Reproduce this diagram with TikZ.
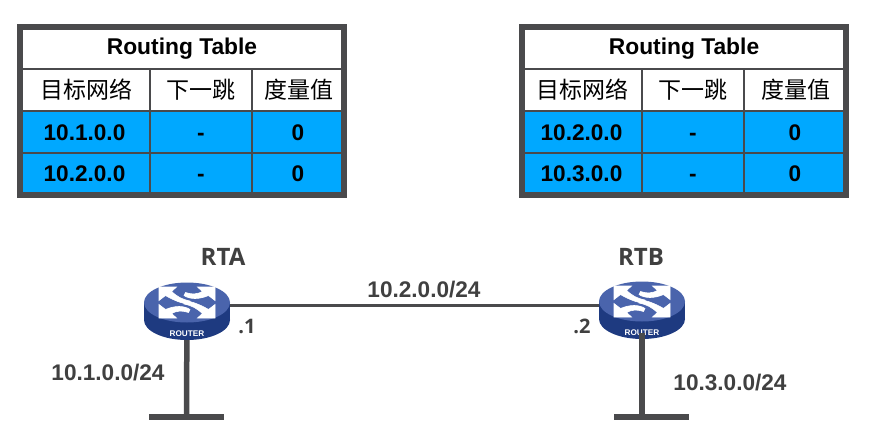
\documentclass[tikz,border=0pt]{standalone}
\usepackage{fontspec}
\setmainfont{Liberation Sans}
\newfontfamily\cjkf{Noto Sans CJK SC}
\newfontfamily\opensf{Open Sans}
\usetikzlibrary{shapes.geometric}
\definecolor{framegray}{HTML}{4A4A4C}
\definecolor{cellblue}{HTML}{00A8FF}
\definecolor{labelgray}{HTML}{404040}
\definecolor{routertop}{HTML}{4A64AC}
\definecolor{routerside}{HTML}{1E3A80}
\tikzset{
  x=1pt,y=-1pt,
  basecell/.style={draw=framegray,line width=2pt,inner sep=0pt,outer sep=0pt,text=black,text height=16pt,text depth=0pt,align=center},
  titlecell/.style={basecell,fill=white,minimum height=40pt,font=\fontsize{22.8}{24}\selectfont\bfseries},
  headcell/.style={basecell,fill=white,minimum height=42pt,font=\fontsize{23}{24}\selectfont\cjkf},
  datacell/.style={basecell,fill=cellblue,font=\fontsize{22.6}{24}\selectfont\bfseries},
  tableframe/.style={draw=framegray,line width=5pt,fill=none,inner sep=0pt,minimum width=325pt,minimum height=169pt},
  netlabel/.style={inner sep=0pt,anchor=base,text=labelgray,font=\fontsize{22.6}{24}\selectfont\bfseries},
  namelabel/.style={inner sep=0pt,anchor=base,text=labelgray,font=\fontsize{24}{26}\selectfont\opensf\bfseries},
  iflabel/.style={inner sep=0pt,anchor=base,text=labelgray,font=\fontsize{20}{22}\selectfont\opensf\bfseries},
  wire/.style={draw=framegray,line width=3pt},
  stem/.style={draw=framegray,line width=5.5pt},
  lanbar/.style={fill=framegray,inner sep=0pt,minimum width=75pt,minimum height=6pt},
  routerface/.style={ellipse,inner sep=0pt,outer sep=0pt,minimum width=86pt,minimum height=41pt},
  glyph/.style={fill=white,draw=white,line width=0.6pt,line join=miter},
}
\newcommand{\routerart}[2]{%
\begin{scope}[shift={(#1,#2)}]
  \fill[routerside] (0,17.5) ellipse[x radius=43,y radius=20];
  \fill[routerside] (-43,0) rectangle (43,17.5);
  \fill[routertop] (0,0) ellipse[x radius=43,y radius=20];
  \foreach \s in {1,-1}{
    \begin{scope}[xscale=\s,yscale=\s]
      % arrow whose tail runs through the centre
      \path[glyph] (-28,-15.5) -- (-10.5,-15.5) -- (-15.5,-11)
        .. controls (-10,-6) and (-5,-3) .. (3,-1.5)
        -- (3,2) .. controls (-5,1) and (-13,-2) .. (-21.5,-7)
        -- (-28,-2) -- cycle;
      % arrow whose tail hooks towards the top centre
      \path[glyph] (28,-15.5) -- (10.5,-15.5) -- (15.5,-11)
        .. controls (11,-8.5) and (5,-7.5) .. (-1.5,-10)
        -- (-3,-7) .. controls (3,-3) and (12,-3) .. (21.5,-7)
        -- (28,-2) -- cycle;
    \end{scope}
  }
  \node[inner sep=0pt,text=white,font=\fontsize{8.2}{9}\selectfont\bfseries] at (0,31) {ROUTER};
\end{scope}}
\begin{document}
\begin{tikzpicture}
\useasboundingbox (0,0) rectangle (870,439);
\fill[white] (0,0) rectangle (870,439);
% left table
\node[titlecell,minimum width=320pt] (lt) at (182,49) {\raisebox{3pt}{Routing Table}};
\node[headcell,minimum width=128pt] (lh1) at (86,90) {目标网络};
\node[headcell,minimum width=102pt] (lh2) at (201,90) {下一跳};
\node[headcell,minimum width=90pt] (lh3) at (297,90) {\hspace*{4pt}度量值};
\node[datacell,minimum width=128pt,minimum height=42pt] (la1) at (86,132) {\hspace*{-3pt}10.1.0.0};
\node[datacell,minimum width=102pt,minimum height=42pt] (la2) at (201,132) {-};
\node[datacell,minimum width=90pt,minimum height=42pt] (la3) at (297,132) {\hspace*{2pt}0};
\node[datacell,minimum width=128pt,minimum height=40pt] (lb1) at (86,173) {\hspace*{-3pt}10.2.0.0};
\node[datacell,minimum width=102pt,minimum height=40pt] (lb2) at (201,173) {-};
\node[datacell,minimum width=90pt,minimum height=40pt] (lb3) at (297,173) {\hspace*{2pt}0};
\node[tableframe] (lf) at (182,111) {};
% right table
\node[titlecell,minimum width=320pt] (rt) at (684,49) {\raisebox{3pt}{Routing Table}};
\node[headcell,minimum width=118pt] (rh1) at (583,90) {\hspace*{-2pt}目标网络};
\node[headcell,minimum width=102pt] (rh2) at (693,90) {下一跳};
\node[headcell,minimum width=100pt] (rh3) at (794,90) {\hspace*{4pt}度量值};
\node[datacell,minimum width=118pt,minimum height=42pt] (ra1) at (583,132) {\hspace*{-3pt}10.2.0.0};
\node[datacell,minimum width=102pt,minimum height=42pt] (ra2) at (693,132) {-};
\node[datacell,minimum width=100pt,minimum height=42pt] (ra3) at (794,132) {\hspace*{2pt}0};
\node[datacell,minimum width=118pt,minimum height=40pt] (rb1) at (583,173) {\hspace*{-3pt}10.3.0.0};
\node[datacell,minimum width=102pt,minimum height=40pt] (rb2) at (693,173) {-};
\node[datacell,minimum width=100pt,minimum height=40pt] (rb3) at (794,173) {\hspace*{2pt}0};
\node[tableframe] (rf) at (684,111) {};
% network
\node[routerface] (rtra) at (187,305) {};
\node[routerface] (rtrb) at (642,305) {};
\node[lanbar] (bara) at (186.5,417) {};
\node[lanbar] (barb) at (651.5,417) {};
\coordinate (bart) at (642,417);
\coordinate (stemb) at (642,333);
\draw[wire] (rtra.east) -- (rtrb.west);
\draw[stem] (rtra) -- (bara);
\routerart{187}{302.5}
\routerart{642}{301.5}
\draw[stem] (stemb) -- (bart);
% labels
\node[namelabel] (na) at (223,265) {RTA};
\node[namelabel] (nb) at (641,265) {RTB};
\node[netlabel] (n2) at (424,297) {10.2.0.0/24};
\node[netlabel] (n1) at (108,380) {10.1.0.0/24};
\node[netlabel] (n3) at (730,390) {10.3.0.0/24};
\node[iflabel] (d1) at (247,333) {.1};
\node[iflabel] (d2) at (582,333) {.2};
\end{tikzpicture}
\end{document}
